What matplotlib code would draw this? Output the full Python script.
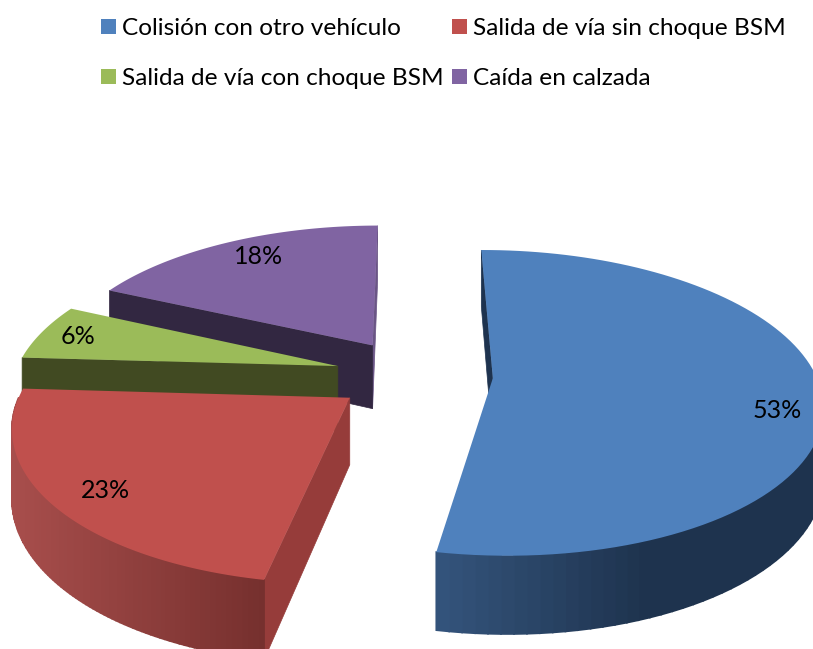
import numpy as np
import matplotlib
matplotlib.use('Agg')
import matplotlib.pyplot as plt
from matplotlib.patches import Patch, Polygon

# === Data ===
labels = ['Colisión con otro vehículo', 'Salida de vía sin choque BSM',
          'Salida de vía con choque BSM', 'Caída en calzada']
values = [53, 23, 6, 18]
colors = ['#4F81BD', '#C0504D', '#9BBB59', '#8064A2']
face_colors = ['#1E334F', '#963C3A', '#414A22', '#322741']

# === Fake 3D projection (pixel space) ===
CX, Y0, HORIZON = 417, 369, -543
RX, P, DEPTH = 321, 0.16, 65
EXPLODE = 0.245
START = -0.2


def project(x, y, z=0.0):
    w = 1 / (1 - P * np.asarray(y))
    return CX + np.asarray(x) * RX * w, HORIZON + (Y0 - HORIZON) * w + z * w


def lerp_color(c0, c1, t):
    return tuple((np.array(c0) + (np.array(c1) - np.array(c0)) * t) / 255)


fig = plt.figure(figsize=(8.13, 6.49), dpi=100)
ax = fig.add_axes([0, 0, 1, 1])
ax.set_xlim(0, 813)
ax.set_ylim(649, 0)
ax.axis('off')

edges = START + np.cumsum([0] + values) * 3.6
wedges = []
for i in range(len(values)):
    a0, a1 = edges[i], edges[i + 1]
    mid = np.radians((a0 + a1) / 2)
    ox = -0.01 + EXPLODE * np.sin(mid)
    oy = 0.04 - EXPLODE * np.cos(mid)
    th = np.radians(np.linspace(a0, a1, 100))
    wedges.append((ox, oy, ox + np.sin(th), oy - np.cos(th)))


def cut_face(i, idx, color, zorder):
    ox, oy, xs, ys = wedges[i]
    ax0, ay0 = project(ox, oy)
    ex, ey = project(xs[idx], ys[idx])
    ax1, ay1 = project(ox, oy, DEPTH)
    bx, by = project(xs[idx], ys[idx], DEPTH)
    ax.add_patch(Polygon([(ax0, ay0), (ex, ey), (bx, by), (ax1, ay1)],
                         facecolor=color, edgecolor=color, lw=0.5, zorder=zorder))


def outer_wall(i, shade, zorder):
    ox, oy, xs, ys = wedges[i]
    tx, ty = project(xs, ys)
    bx, by = project(xs, ys, DEPTH)
    for k in range(len(xs) - 1):
        if ys[k] < oy and ys[k + 1] < oy:
            continue
        c = shade((tx[k] + tx[k + 1]) / 2)
        ax.add_patch(Polygon([(tx[k], ty[k]), (tx[k + 1], ty[k + 1]),
                              (bx[k + 1], by[k + 1]), (bx[k], by[k])],
                             facecolor=c, edgecolor=c, lw=1.2, zorder=zorder))


def top(i, zorder):
    ox, oy, xs, ys = wedges[i]
    tx, ty = project(xs, ys)
    ax0, ay0 = project(ox, oy)
    pts = [(ax0, ay0)] + list(zip(tx, ty))
    ax.add_patch(Polygon(pts, facecolor=colors[i], edgecolor='none', zorder=zorder))


def blue_shade(x):
    return lerp_color((52, 84, 124), (30, 51, 78), np.clip((x - 438) / 205, 0, 1))


def red_shade(x):
    return lerp_color((168, 78, 76), (118, 48, 46), np.clip((x - 12) / 250, 0, 1))


# purple, back to front
cut_face(3, -1, '#6A5585', 1)
cut_face(3, 0, face_colors[3], 2)
top(3, 3)
# green
cut_face(2, 0, face_colors[2], 4)
top(2, 5)
# red
cut_face(1, 0, face_colors[1], 6)
outer_wall(1, red_shade, 7)
top(1, 8)
# blue
cut_face(0, 0, face_colors[0], 9)
outer_wall(0, blue_shade, 10)
top(0, 11)

# === Value labels ===
label_xy = [(777, 411), (105, 490), (78, 336), (259, 256)]
for v, (lx, ly) in zip(values, label_xy):
    ax.text(lx, ly, f'{v}%', fontsize=18, family='Lato', ha='center', va='center',
            color='black', zorder=20)

# === Legend (filled column by column) ===
order = [0, 2, 1, 3]
handles = [Patch(facecolor=colors[i], edgecolor='none') for i in order]
ax.legend(handles, [labels[i] for i in order], ncol=2, loc='upper left',
          bbox_to_anchor=(101 / 813, 1 - 18 / 649), frameon=False,
          prop={'family': 'Lato', 'size': 17.6}, borderpad=0, borderaxespad=0,
          handlelength=0.6, handleheight=0.6, handletextpad=0.26,
          labelspacing=1.2, columnspacing=0.34)

fig.savefig('out.png', dpi=100)
